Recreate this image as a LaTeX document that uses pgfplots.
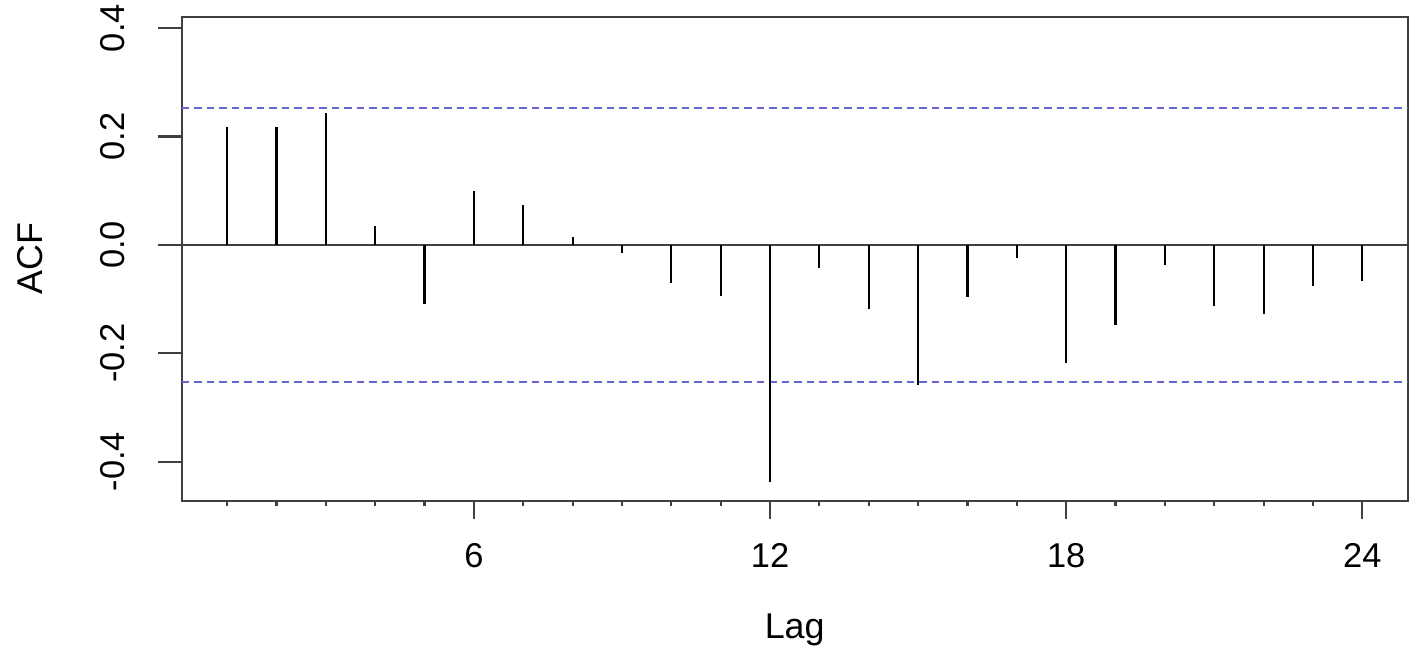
\documentclass[border=0pt]{standalone}
\usepackage{pgfplots}
\pgfplotsset{compat=1.18}
\usepackage{fontspec}
\setmainfont{Liberation Sans}
\definecolor{ciblue}{rgb}{0.40,0.40,0.82}
\begin{document}
\fontsize{9.8}{11}\selectfont
\begin{tikzpicture}
\begin{axis}[
  scale only axis,
  width=122.6mm, height=48.4mm,
  xmin=0.08, xmax=24.92,
  ymin=-0.472, ymax=0.421,
  axis line style={draw=black!75, line width=0.6pt},
  every tick/.style={draw=black!75, line width=0.6pt},
  tick align=outside,
  xtick pos=bottom, ytick pos=left,
  major tick length=0.5mm,
  xtick={1,...,24},
  xticklabels={},
  extra x ticks={6,12,18,24},
  extra x tick labels={6,12,18,24},
  extra x tick style={major tick length=1.87mm},
  xticklabel style={anchor=center, yshift=-3.6mm},
  ytick=\empty,
  extra y ticks={-0.4,-0.2,0,0.2,0.4},
  extra y tick labels={-0.4,-0.2,0.0,0.2,0.4},
  extra y tick style={major tick length=2.37mm},
  yticklabel style={xshift=-4.57mm, rotate=90, anchor=center},
  xlabel={Lag},
  ylabel={ACF},
  label style={font=\fontsize{10.2}{12}\selectfont},
  xlabel style={at={(axis description cs:0.5,-0.2665)}, anchor=center},
  ylabel style={at={(axis description cs:-0.1237,0.5)}, anchor=center, rotate=0},
]
\coordinate (sw) at (rel axis cs:0,0);
\coordinate (ne) at (rel axis cs:1,1);
% zero line and confidence bounds
\addplot[black!75, line width=0.6pt] coordinates {(0.08,0) (24.92,0)};
\addplot[ciblue, line width=0.6pt, dash pattern=on 0.75mm off 0.5mm] coordinates {(0.08,0.253) (24.92,0.253)};
\addplot[ciblue, line width=0.6pt, dash pattern=on 0.75mm off 0.5mm] coordinates {(0.08,-0.253) (24.92,-0.253)};
% autocorrelations
\addplot[ycomb, black, line width=0.6pt, no marks] coordinates {
  (1,0.218) (2,0.218) (3,0.243) (4,0.035) (5,-0.109) (6,0.100)
  (7,0.074) (8,0.015) (9,-0.015) (10,-0.071) (11,-0.094) (12,-0.437)
  (13,-0.043) (14,-0.118) (15,-0.258) (16,-0.097) (17,-0.025) (18,-0.218)
  (19,-0.148) (20,-0.037) (21,-0.113) (22,-0.127) (23,-0.076) (24,-0.066)
};
\end{axis}
\pgfresetboundingbox
\path ([shift={(-18.17mm,-15.43mm)}]sw) rectangle ([shift={(0.93mm,1.67mm)}]ne);
\end{tikzpicture}
\end{document}
